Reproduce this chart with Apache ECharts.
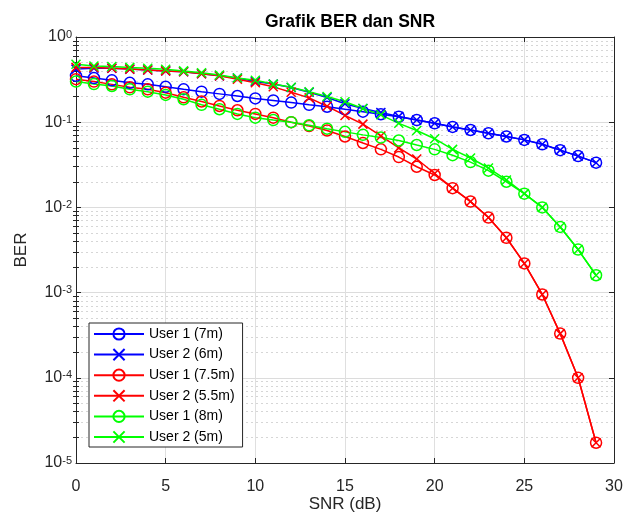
<!DOCTYPE html>
<html>
<head>
<meta charset="utf-8">
<script src="https://cdn.jsdelivr.net/npm/echarts@6/dist/echarts.min.js"></script>
<style>html,body{margin:0;padding:0;background:#fff;}#c{width:624px;height:513px;}</style>
</head>
<body>
<div id="c"></div>
<script>
const snr = [0,1,2,3,4,5,6,7,8,9,10,11,12,13,14,15,16,17,18,19,20,21,22,23,24,25,26,27,28,29];
const user1_7m   = [0.35,0.33,0.31,0.29,0.278,0.26,0.243,0.228,0.215,0.203,0.19,0.18,0.17,0.16,0.152,0.142,0.133,0.124,0.116,0.106,0.097,0.088,0.081,0.074,0.068,0.062,0.055,0.047,0.040,0.0335];
const user2_6m   = [0.42,0.43,0.43,0.42,0.41,0.40,0.39,0.37,0.35,0.33,0.30,0.28,0.255,0.225,0.195,0.165,0.145,0.13,0.117,0.106,0.097,0.088,0.081,0.074,0.068,0.062,0.055,0.047,0.040,0.0335];
const user1_75m  = [0.32,0.30,0.278,0.257,0.243,0.222,0.196,0.175,0.155,0.138,0.125,0.113,0.100,0.090,0.080,0.068,0.057,0.048,0.039,0.030,0.024,0.0168,0.0117,0.0076,0.0044,0.0022,0.00095,0.00033,0.0001,0.0000173];
const user2_55m  = [0.44,0.44,0.43,0.42,0.41,0.40,0.39,0.37,0.35,0.32,0.29,0.26,0.225,0.193,0.154,0.12,0.095,0.069,0.05,0.037,0.025,0.0168,0.0117,0.0076,0.0044,0.0022,0.00095,0.00033,0.0001,0.0000173];
const user1_8m   = [0.30,0.28,0.266,0.243,0.228,0.209,0.186,0.16,0.142,0.125,0.113,0.106,0.100,0.092,0.084,0.077,0.071,0.066,0.061,0.054,0.048,0.041,0.034,0.027,0.020,0.0145,0.0100,0.0059,0.0032,0.0016];
const user2_5m   = [0.48,0.457,0.45,0.44,0.43,0.418,0.40,0.38,0.358,0.33,0.31,0.28,0.257,0.228,0.20,0.174,0.145,0.122,0.097,0.080,0.064,0.048,0.038,0.029,0.021,0.0145,0.0100,0.0059,0.0032,0.0016];
const seriesNames = ['User 1 (7m)','User 2 (6m)','User 1 (7.5m)','User 2 (5.5m)','User 1 (8m)','User 2 (5m)'];
const xTicks = [0,5,10,15,20,25,30];
const yMajor = [1e-5,1e-4,1e-3,1e-2,1e-1,1];

const yMinor = [];
for (let e = -5; e < 0; e++) for (let k = 2; k <= 9; k++) yMinor.push(+(k * Math.pow(10, e)).toPrecision(3));

const FONT = 'Liberation Sans, Arial, Helvetica, sans-serif';
const AX = '#262626';
const XSYM = 'path://M0,0L10,10M10,0L0,10';

function mk(name, data, color, isX) {
  return {
    name: name,
    type: 'line',
    data: snr.map((x, i) => [x, data[i]]),
    symbol: isX ? XSYM : 'circle',
    symbolSize: isX ? 9 : 11,
    showAllSymbol: true,
    lineStyle: { color: color, width: 1.5 },
    itemStyle: { color: 'transparent', borderColor: color, borderWidth: 1.5 },
    emphasis: { disabled: true },
    animation: false,
    z: 3
  };
}

const chart = echarts.init(document.getElementById('c'), null, { renderer: 'canvas' });
chart.setOption({
  backgroundColor: '#fff',
  animation: false,
  textStyle: { fontFamily: FONT },
  title: {
    text: 'Grafik BER dan SNR',
    left: 345, top: 8, textAlign: 'center',
    textStyle: { fontSize: 17.5, fontWeight: 'bold', color: '#000', fontFamily: FONT }
  },
  grid: { left: 76, right: 10, top: 37, bottom: 50, containLabel: false, outerBoundsMode: 'none', show: false },
  legend: {
    orient: 'vertical',
    left: 89, top: 323,
    padding: [4, 8, 3, 4],
    itemWidth: 50, itemHeight: 14, itemGap: 6.6,
    backgroundColor: '#fff',
    borderColor: AX, borderWidth: 1,
    textStyle: { fontSize: 14, color: '#000', fontFamily: FONT, padding: [0,0,0,0] },
    data: seriesNames
  },
  xAxis: [
    {
      type: 'value', min: 0, max: 30, interval: 5, position: 'bottom',
      name: 'SNR (dB)', nameLocation: 'middle', nameGap: 33, nameMoveOverlap: false,
      nameTextStyle: { fontSize: 17, color: AX, fontFamily: FONT, verticalAlign: 'top' },
      axisLine: { show: true, onZero: false, lineStyle: { color: AX, width: 1 } },
      axisTick: { show: true, inside: true, length: 5, lineStyle: { color: AX } },
      axisLabel: { fontSize: 16, color: AX, margin: 16, fontFamily: FONT,
        customValues: xTicks, formatter: v => String(v) },
      splitLine: { show: true, lineStyle: { color: '#dfdfdf', width: 1 } }
    },
    {
      type: 'value', min: 0, max: 30, interval: 5, position: 'top',
      axisLine: { show: true, onZero: false, lineStyle: { color: AX, width: 1 } },
      axisTick: { show: true, inside: true, length: 5, lineStyle: { color: AX } },
      axisLabel: { show: false }, splitLine: { show: false }
    }
  ],
  yAxis: [
    {
      type: 'log', logBase: 10, min: 1e-5, max: 1, interval: 1, position: 'left',
      name: 'BER', nameLocation: 'middle', nameGap: 46, nameRotate: 90, nameMoveOverlap: false,
      nameTextStyle: { fontSize: 17, color: AX, fontFamily: FONT },
      axisLine: { show: true, onZero: false, lineStyle: { color: AX, width: 1 } },
      axisTick: { show: true, inside: true, length: 5, lineStyle: { color: AX }, customValues: yMajor },
      axisLabel: {
        customValues: yMajor,
        margin: 4, color: AX, fontFamily: FONT,
        formatter: function (v) {
          const e = Math.round(Math.log10(v));
          return '{b|10}{s|' + e + '}';
        },
        rich: {
          b: { fontSize: 16, color: AX, fontFamily: FONT, verticalAlign: 'bottom', lineHeight: 16, padding: [3,0,0,0] },
          s: { fontSize: 11, color: AX, fontFamily: FONT, verticalAlign: 'top', lineHeight: 16, padding: [0,0,9,0] }
        }
      },
      splitLine: { show: true, lineStyle: { color: '#dcdcdc', width: 1 } }
    },
    {
      type: 'log', logBase: 10, min: 1e-5, max: 1, position: 'left',
      axisLine: { show: false },
      axisTick: { show: true, inside: true, length: 3, lineStyle: { color: AX }, customValues: yMinor },
      axisLabel: { show: false },
      splitLine: { show: true, lineStyle: { color: '#d6d6d6', width: 1, type: [2, 3] } }
    },
    {
      type: 'log', logBase: 10, min: 1e-5, max: 1, position: 'right',
      axisLine: { show: true, onZero: false, lineStyle: { color: AX, width: 1 } },
      axisTick: { show: true, inside: true, length: 5, lineStyle: { color: AX }, customValues: yMajor },
      axisLabel: { show: false }, splitLine: { show: false }
    },
    {
      type: 'log', logBase: 10, min: 1e-5, max: 1, position: 'right',
      axisLine: { show: false },
      axisTick: { show: true, inside: true, length: 3, lineStyle: { color: AX }, customValues: yMinor },
      axisLabel: { show: false }, splitLine: { show: false }
    }
  ],
  series: [
    mk(seriesNames[0], user1_7m, '#0000ff', false),
    mk(seriesNames[1], user2_6m, '#0000ff', true),
    mk(seriesNames[2], user1_75m, '#ff0000', false),
    mk(seriesNames[3], user2_55m, '#ff0000', true),
    mk(seriesNames[4], user1_8m, '#00ff00', false),
    mk(seriesNames[5], user2_5m, '#00ff00', true)
  ]
});
</script>
</body>
</html>
